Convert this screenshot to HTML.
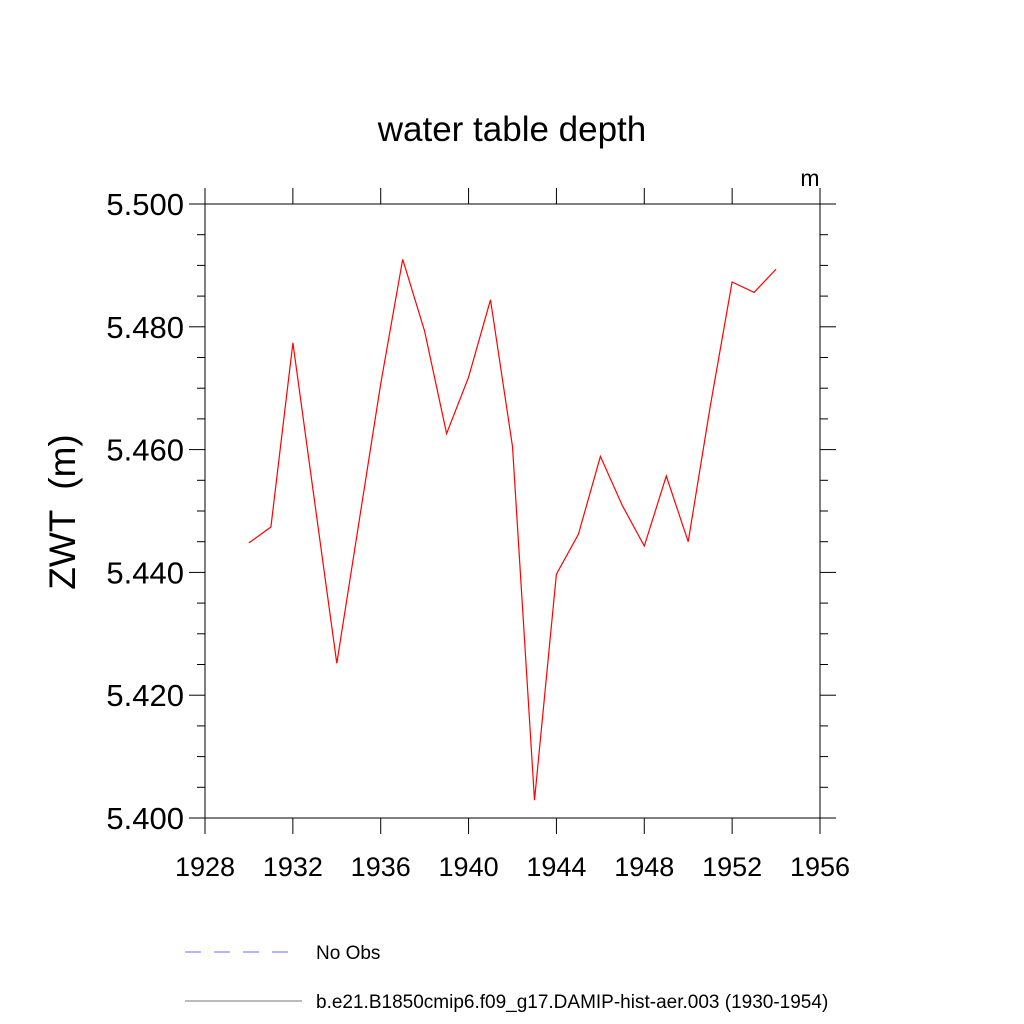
<!DOCTYPE html>
<html><head><meta charset="utf-8"><style>
html,body{margin:0;padding:0;background:#fff;}
svg{display:block;font-family:"Liberation Sans",Arial,sans-serif;}
</style></head><body>
<svg id="chart" width="1024" height="1024" viewBox="0 0 1024 1024">
<text x="512" y="141" font-size="35" text-anchor="middle">water table depth</text>
<text x="810" y="186" font-size="23" text-anchor="middle">m</text>
<text transform="translate(75,512) rotate(-90)" font-size="37" text-anchor="middle" style="white-space:pre">ZWT  (m)</text>
<rect x="205" y="204" width="615" height="614" fill="none" stroke="#000" stroke-width="1"/>
<g id="axes"></g>
<polyline id="series" fill="none" stroke="#ff0000" stroke-width="1.2"/>
<g>
<line x1="185" y1="952" x2="292" y2="952" stroke="#6a6aff" stroke-width="1" stroke-dasharray="16,13"/>
<text x="316" y="959" font-size="19">No Obs</text>
<line x1="185" y1="1001" x2="302" y2="1001" stroke="#777" stroke-width="1"/>
<text x="316" y="1008" font-size="19">b.e21.B1850cmip6.f09_g17.DAMIP-hist-aer.003 (1930-1954)</text>
</g>
</svg>
<script>
const years = [1930,1931,1932,1933,1934,1935,1936,1937,1938,1939,1940,1941,1942,1943,1944,1945,1946,1947,1948,1949,1950,1951,1952,1953,1954];
const values = [5.4448,5.4474,5.4774,5.4513,5.4252,5.448,5.4707,5.4910,5.4793,5.4626,5.4718,5.4844,5.4605,5.4029,5.4397,5.4462,5.4589,5.4509,5.4443,5.4557,5.4450,5.467,5.4873,5.4856,5.4894];
const xTicks = [1928,1932,1936,1940,1944,1948,1952,1956];
const yTicks = [5.400,5.420,5.440,5.460,5.480,5.500];
const yTickLabels = ["5.400","5.420","5.440","5.460","5.480","5.500"];
const X0=205,X1=820,Y0=818,Y1=204,XMIN=1928,XMAX=1956,YMIN=5.4,YMAX=5.5;
function xs(v){return X0+(v-XMIN)/(XMAX-XMIN)*(X1-X0);}
function ys(v){return Y0-(v-YMIN)/(YMAX-YMIN)*(Y0-Y1);}
const NS="http://www.w3.org/2000/svg";
const g=document.getElementById('axes');
function ln(x1,y1,x2,y2,name){const l=document.createElementNS(NS,'line');l.setAttribute('x1',x1);l.setAttribute('y1',y1);l.setAttribute('x2',x2);l.setAttribute('y2',y2);l.setAttribute('stroke','#000');l.setAttribute('stroke-width','1');


g.appendChild(l);}
function tx(x,y,s,anchor,size,name){const t=document.createElementNS(NS,'text');t.setAttribute('x',x);t.setAttribute('y',y);t.setAttribute('font-size',size);t.setAttribute('text-anchor',anchor);t.textContent=s;


g.appendChild(t);}
xTicks.forEach(v=>{const x=xs(v);ln(x,Y0,x,Y0+16,'x-tick');ln(x,Y1,x,Y1-16,'x-tick-top');tx(x,876,String(v),'middle','27','x-tick-label');});
yTicks.forEach((v,i)=>{const y=ys(v);ln(X0,y,X0-16,y,'y-tick');ln(X1,y,X1+16,y,'y-tick-right');tx(184,y+11,yTickLabels[i],'end','31','y-tick-label');});
for(let k=0;k<yTicks.length-1;k++){for(let m=1;m<4;m++){const v=yTicks[k]+(yTicks[k+1]-yTicks[k])*m/4;const y=ys(v);ln(X0,y,X0-8,y,'y-minor-tick');ln(X1,y,X1+8,y,'y-minor-tick-right');}}
document.getElementById('series').setAttribute('points',years.map((yr,i)=>xs(yr).toFixed(1)+','+ys(values[i]).toFixed(1)).join(' '));
</script>
</body></html>
